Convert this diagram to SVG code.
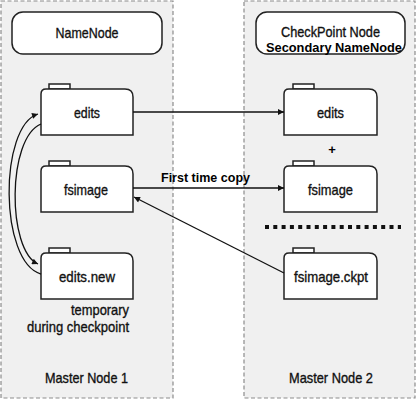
<svg xmlns="http://www.w3.org/2000/svg" width="417" height="400" viewBox="0 0 417 400">
<defs>
<marker id="ah" viewBox="0 0 10 10" refX="10" refY="5" markerWidth="9" markerHeight="6" markerUnits="userSpaceOnUse" orient="auto">
<path d="M0,0 L10,5 L0,10 z" fill="#111"/>
</marker>
<style>
.panel{fill:#f0f0f0;stroke:#8c8c8c;stroke-width:1.2;stroke-dasharray:4,2.5}
.box{fill:#fff;stroke:#222;stroke-width:1.5}
.file{fill:#fff;stroke:#222;stroke-width:1.5}
.t{font-family:"Liberation Sans",Arial,sans-serif;font-size:15px;fill:#111;stroke:#111;stroke-width:0.35;text-anchor:middle}
.b{font-family:"Liberation Sans",Arial,sans-serif;font-size:13px;font-weight:bold;fill:#000;text-anchor:middle}
.c{fill:none;stroke:#111;stroke-width:1.3}
</style>
</defs>
<rect class="panel" x="1" y="1" width="172" height="397"/>
<rect class="panel" x="244" y="1" width="171" height="397"/>

<g id="namenode">
<rect class="box" x="12" y="12" width="150" height="42" rx="11"/>
<text class="t" x="87" y="38" font-size="15.5" textLength="63" lengthAdjust="spacingAndGlyphs">NameNode</text>
</g>
<g id="checkpoint">
<rect class="box" x="256" y="12" width="149" height="42" rx="11"/>
<text class="t" x="330.5" y="37" font-size="15.5" textLength="99" lengthAdjust="spacingAndGlyphs">CheckPoint Node</text>
<text class="b" x="334" y="52" textLength="136" lengthAdjust="spacingAndGlyphs">Secondary NameNode</text>
</g>

<g id="edits1">
<rect class="file" x="49" y="84" width="21" height="5"/>
<path class="file" d="M41,135 V94 Q41,89 46,89 H125 Q133,89 133,97 V135 Z"/>
<text class="t" x="87" y="118" textLength="26" lengthAdjust="spacingAndGlyphs">edits</text>
</g>
<g id="fsimage1">
<rect class="file" x="49" y="161" width="21" height="5"/>
<path class="file" d="M41,212 V171 Q41,166 46,166 H125 Q133,166 133,174 V212 Z"/>
<text class="t" x="86" y="195" textLength="44" lengthAdjust="spacingAndGlyphs">fsimage</text>
</g>
<g id="editsnew">
<rect class="file" x="49" y="248" width="21" height="5"/>
<path class="file" d="M41,299 V258 Q41,253 46,253 H125 Q133,253 133,261 V299 Z"/>
<text class="t" x="87" y="282" textLength="56" lengthAdjust="spacingAndGlyphs">edits.new</text>
</g>
<g id="notes1">
<text class="t" x="129" y="315" style="text-anchor:end" textLength="58" lengthAdjust="spacingAndGlyphs">temporary</text>
<text class="t" x="129" y="332" style="text-anchor:end" textLength="102" lengthAdjust="spacingAndGlyphs">during checkpoint</text>
<text class="t" x="86.5" y="383" textLength="83" lengthAdjust="spacingAndGlyphs">Master Node 1</text>
</g>

<g id="edits2">
<rect class="file" x="293" y="84" width="21" height="5"/>
<path class="file" d="M284,135 V94 Q284,89 289,89 H369 Q377,89 377,97 V135 Z"/>
<text class="t" x="330.5" y="118" textLength="27" lengthAdjust="spacingAndGlyphs">edits</text>
</g>
<g id="plus">
<text class="b" x="332" y="154" font-size="17">+</text>
</g>
<g id="fsimage2">
<rect class="file" x="293" y="161" width="21" height="5"/>
<path class="file" d="M284,212 V171 Q284,166 289,166 H369 Q377,166 377,174 V212 Z"/>
<text class="t" x="330.5" y="195" textLength="45" lengthAdjust="spacingAndGlyphs">fsimage</text>
</g>
<g id="separator">
<line x1="265" y1="227" x2="401" y2="227" stroke="#111" stroke-width="4" stroke-dasharray="4,4.3"/>
</g>
<g id="ckpt">
<rect class="file" x="293" y="248" width="21" height="5"/>
<path class="file" d="M284,299 V258 Q284,253 289,253 H369 Q377,253 377,261 V299 Z"/>
<text class="t" x="331" y="282" textLength="74" lengthAdjust="spacingAndGlyphs">fsimage.ckpt</text>
</g>
<g id="notes2">
<text class="t" x="331" y="383" textLength="84" lengthAdjust="spacingAndGlyphs">Master Node 2</text>
</g>

<g id="connectors">
<line class="c" x1="133" y1="112" x2="284" y2="112" marker-end="url(#ah)"/>
<line class="c" x1="133" y1="188" x2="284" y2="188" marker-end="url(#ah)"/>
<text class="b" x="205.5" y="182" textLength="89" lengthAdjust="spacingAndGlyphs">First time copy</text>
<line class="c" x1="284" y1="273" x2="134" y2="197" marker-end="url(#ah)"/>
<path class="c" d="M41,274 C-1,262 -1,126 38,114" marker-end="url(#ah)"/>
<path class="c" d="M41,124 C7,138 7,250 38,264" marker-end="url(#ah)"/>
</g>
</svg>
